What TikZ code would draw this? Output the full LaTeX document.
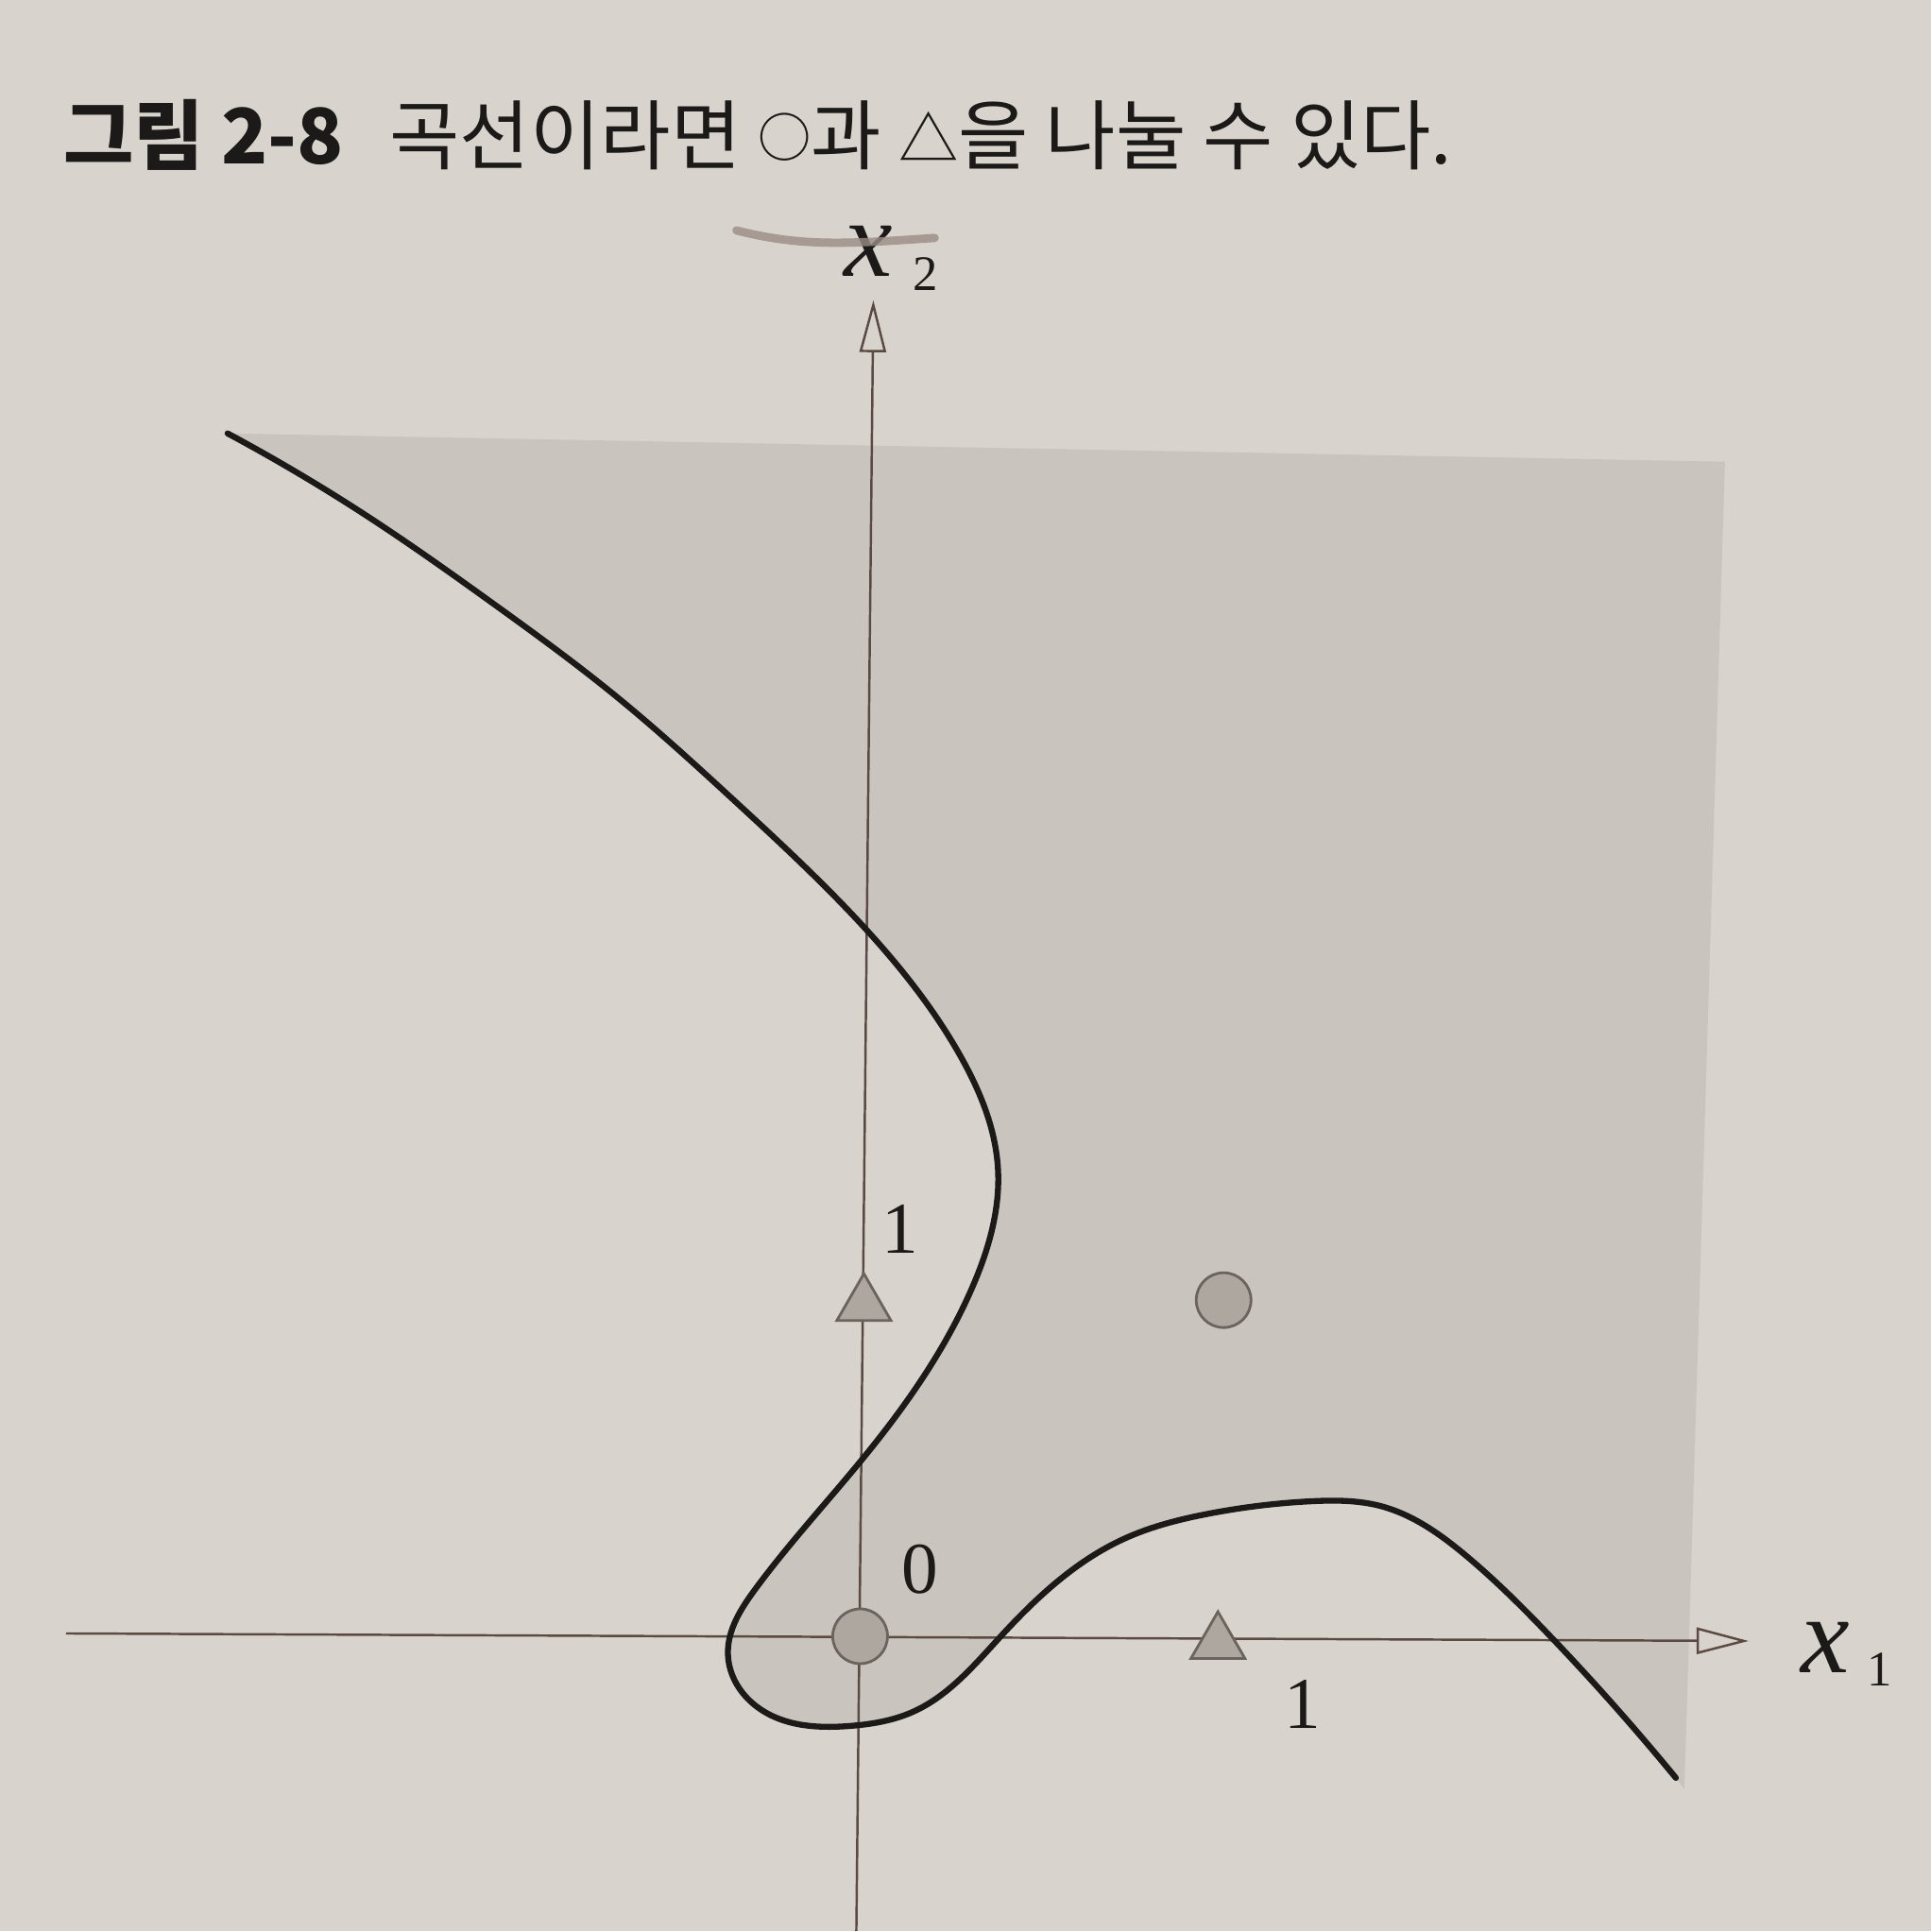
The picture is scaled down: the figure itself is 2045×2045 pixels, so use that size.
\documentclass[tikz,border=0pt]{standalone}
\usepackage{fontspec}
\setmainfont{Liberation Serif}
\newfontfamily\cjk{Noto Sans CJK KR}
\usepackage{xcolor}
\usetikzlibrary{positioning, arrows.meta, shapes.geometric, hobby}
\definecolor{pagegray}{HTML}{D8D3CC}
\definecolor{shadegray}{HTML}{C9C4BD}
\definecolor{axisbrown}{HTML}{5A4A42}
\definecolor{markfill}{HTML}{ADA79F}
\definecolor{markline}{HTML}{6B645D}
\definecolor{penmark}{HTML}{9A8C85}
\definecolor{inkblack}{HTML}{1C1A19}

% decision boundary, in pixel units
\newcommand\sepcurve{(241,459) .. (391,548) .. (522,639) .. (652,737) .. (780,850) .. (917,984) .. (1017,1118) .. (1057,1238) .. (1030,1363) .. (912,1547) .. (800,1683) .. (771,1752) .. (805,1810) .. (900,1828) .. (967,1813) .. (1060,1733) .. (1190,1630) .. (1281,1603) .. (1389,1590) .. (1462,1595) .. (1552,1647) .. (1642,1733) .. (1775,1883)}

\begin{document}
\begin{tikzpicture}[x=0.01cm, y=-0.01cm,
    axis/.style={draw=axisbrown, line width=0.7pt, -{Triangle[open, length=5.5mm, width=2.8mm]}},
    circ/.style={circle, draw=markline, fill=markfill, line width=0.8pt, minimum size=5.8mm, inner sep=0pt},
    tri/.style={regular polygon, regular polygon sides=3, draw=markline, fill=markfill, line width=0.8pt, minimum size=6.6mm, inner sep=0pt},
    ticklab/.style={font=\fontsize{22}{22}\selectfont, text=inkblack},
    axlab/.style={font=\fontsize{33}{33}\selectfont\itshape, text=inkblack, inner sep=0pt},
    sublab/.style={font=\fontsize{15}{15}\selectfont, text=inkblack, inner sep=0pt}]
  \fill[pagegray] (0,0) rectangle (2045,2045);
  % shaded side of the curve
  \fill[shadegray, use Hobby shortcut] \sepcurve -- (1784,1895) -- (1827,489) -- cycle;

  \node[anchor=west, font=\cjk\fontsize{23}{23}\selectfont, text=inkblack] (title) at (55,143)
    {\bfseries 그림 2-8\hspace{0.6em}\mdseries 곡선이라면 \raisebox{2pt}{\fontsize{16}{16}\selectfont ○}과 \raisebox{1pt}{\fontsize{18}{18}\selectfont △}을 나눌 수 있다.};

  % axes
  \coordinate (xstart) at (70,1730);
  \coordinate (xend) at (1852,1738);
  \coordinate (ystart) at (907,2045);
  \coordinate (yend) at (925,318);
  \draw[axis] (xstart) -- (xend);
  \draw[axis] (ystart) -- (yend);

  \node[axlab] (x1) at (1933,1745) {x};
  \node[sublab] (x1sub) at (1991,1768) {1};
  \node[axlab] (x2) at (920,266) {x};
  \node[sublab] (x2sub) at (980,290) {2};
  \draw[penmark, line width=2.5pt, line cap=round, opacity=0.8] (780,244) .. controls (850,262) and (900,258) .. (990,252);

  \node[ticklab] (zero) at (974,1662) {0};
  \node[ticklab] (onex) at (1380,1805) {1};
  \node[ticklab] (oney) at (953,1302) {1};

  % the boundary itself
  \draw[inkblack, line width=1.8pt, line cap=round, use Hobby shortcut] \sepcurve;

  % data points
  \node[circ] (c00) at (911,1733) {};
  \node[circ] (c11) at (1296,1377) {};
  \node[tri] (t01) at (915,1382) {};
  \node[tri] (t10) at (1290,1740) {};
\end{tikzpicture}
\end{document}
